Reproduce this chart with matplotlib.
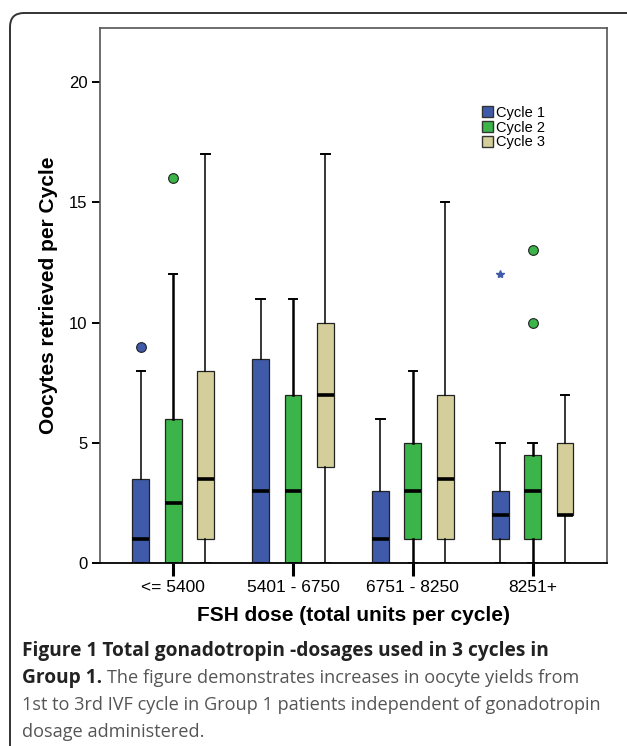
import matplotlib
matplotlib.use("Agg")
import matplotlib.pyplot as plt
from matplotlib.patches import Patch, FancyBboxPatch
from matplotlib.transforms import IdentityTransform

plt.rcParams["font.family"] = ["Liberation Sans", "DejaVu Sans"]

groups = ["<= 5400", "5401 - 6750", "6751 - 8250", "8251+"]
cycles = ["Cycle 1", "Cycle 2", "Cycle 3"]
colors = ["#3f5aa8", "#3bb54a", "#d4cf9a"]

# per group, per cycle: (whislo, q1, med, q3, whishi)
cycle1 = [(0, 0, 1, 3.5, 8), (0, 0, 3, 8.5, 11), (0, 0, 1, 3, 6), (0, 1, 2, 3, 5)]
cycle2 = [(0, 0, 2.5, 6, 12), (0, 0, 3, 7, 11), (0, 1, 3, 5, 8), (0, 1, 3, 4.5, 5)]
cycle3 = [(0, 1, 3.5, 8, 17), (0, 4, 7, 10, 17), (0, 1, 3.5, 7, 15), (0, 2, 2, 5, 7)]
fliers1 = [[9], [], [], []]
fliers2 = [[16], [], [], [10, 13]]
fliers3 = [[], [], [], []]
extremes1 = [[], [], [], [12]]

fig = plt.figure(figsize=(6.27, 7.46), dpi=100)
ax = fig.add_axes([100 / 627, 1 - 563 / 746, 507 / 627, 535 / 746])

offsets = [-0.27, 0.0, 0.27]
all_stats = [cycle1, cycle2, cycle3]
all_fliers = [fliers1, fliers2, fliers3]
whisker_w = [1.1, 1.8, 1.1]

for c in range(3):
    stats = []
    for g in range(4):
        lo, q1, med, q3, hi = all_stats[c][g]
        stats.append(dict(whislo=lo, q1=q1, med=med, q3=q3, whishi=hi,
                          fliers=all_fliers[c][g]))
    pos = [g + offsets[c] for g in range(4)]
    ax.bxp(stats, positions=pos, widths=0.14, patch_artist=True,
           showfliers=True, capwidths=0.07,
           boxprops=dict(facecolor=colors[c], edgecolor="#222222", linewidth=0.9),
           medianprops=dict(color="black", linewidth=2.6),
           whiskerprops=dict(color="black", linewidth=whisker_w[c]),
           capprops=dict(color="black", linewidth=1.4),
           flierprops=dict(marker="o", markerfacecolor=colors[c],
                           markeredgecolor="#222222", markersize=7,
                           markeredgewidth=0.8),
           zorder=2)

# extreme value (star)
for g in range(4):
    for v in extremes1[g]:
        ax.plot(g + offsets[0], v, marker="*", color=colors[0],
                markersize=6, linestyle="none", zorder=3)

ax.set_xlim(-0.61, 3.62)
ax.set_ylim(0, 22.25)
ax.set_yticks([0, 5, 10, 15, 20])
ax.set_xticks(range(4))
ax.set_xticklabels(groups)
ax.tick_params(axis="y", length=6, width=1.4, labelsize=12, pad=3)
ax.tick_params(axis="x", length=9, width=2.2, labelsize=12.5, pad=3)
for s in ["top", "right", "left"]:
    ax.spines[s].set_color("#555555")
    ax.spines[s].set_linewidth(1.2)
ax.spines["bottom"].set_color("black")
ax.spines["bottom"].set_linewidth(1.3)

ax.set_ylabel("Oocytes retrieved per Cycle", fontsize=15, fontweight="bold",
              labelpad=8)
ax.set_xlabel("FSH dose (total units per cycle)", fontsize=15,
              fontweight="bold", labelpad=8)

handles = [Patch(facecolor=colors[i], edgecolor="#333333", linewidth=1.0,
                 label=cycles[i]) for i in range(3)]
ax.legend(handles=handles, loc="upper left", bbox_to_anchor=(0.74, 0.868),
          frameon=False, fontsize=10.5, handlelength=0.75, handleheight=0.8,
          handletextpad=0.2, labelspacing=0.05, borderpad=0)

# rounded frame around the figure panel (pixel coordinates)
frame = FancyBboxPatch((10, -40), 660, 773, boxstyle="round,pad=0,rounding_size=14",
                       transform=IdentityTransform(), facecolor="none",
                       edgecolor="#333333", linewidth=1.4)
fig.patches.append(frame)

# caption
cap_font = ["Open Sans", "DejaVu Sans"]
fig.text(22 / 627, 1 - 656 / 746,
         "Figure 1 Total gonadotropin -dosages used in 3 cycles in",
         family=cap_font, fontsize=13.8, fontweight="bold", color="#222222")
t = fig.text(22 / 627, 1 - 683 / 746, "Group 1.", family=cap_font,
             fontsize=13.8, fontweight="bold", color="#222222")
fig.canvas.draw()
bb = t.get_window_extent(renderer=fig.canvas.get_renderer())
fig.text((bb.x1 + 5) / 627, 1 - 683 / 746,
         "The figure demonstrates increases in oocyte yields from",
         family=cap_font, fontsize=13.1, color="#555555")
fig.text(22 / 627, 1 - 710 / 746,
         "1st to 3rd IVF cycle in Group 1 patients independent of gonadotropin",
         family=cap_font, fontsize=13.1, color="#555555")
fig.text(22 / 627, 1 - 737 / 746, "dosage administered.",
         family=cap_font, fontsize=13.1, color="#555555")

fig.savefig("out.png", dpi=100)
